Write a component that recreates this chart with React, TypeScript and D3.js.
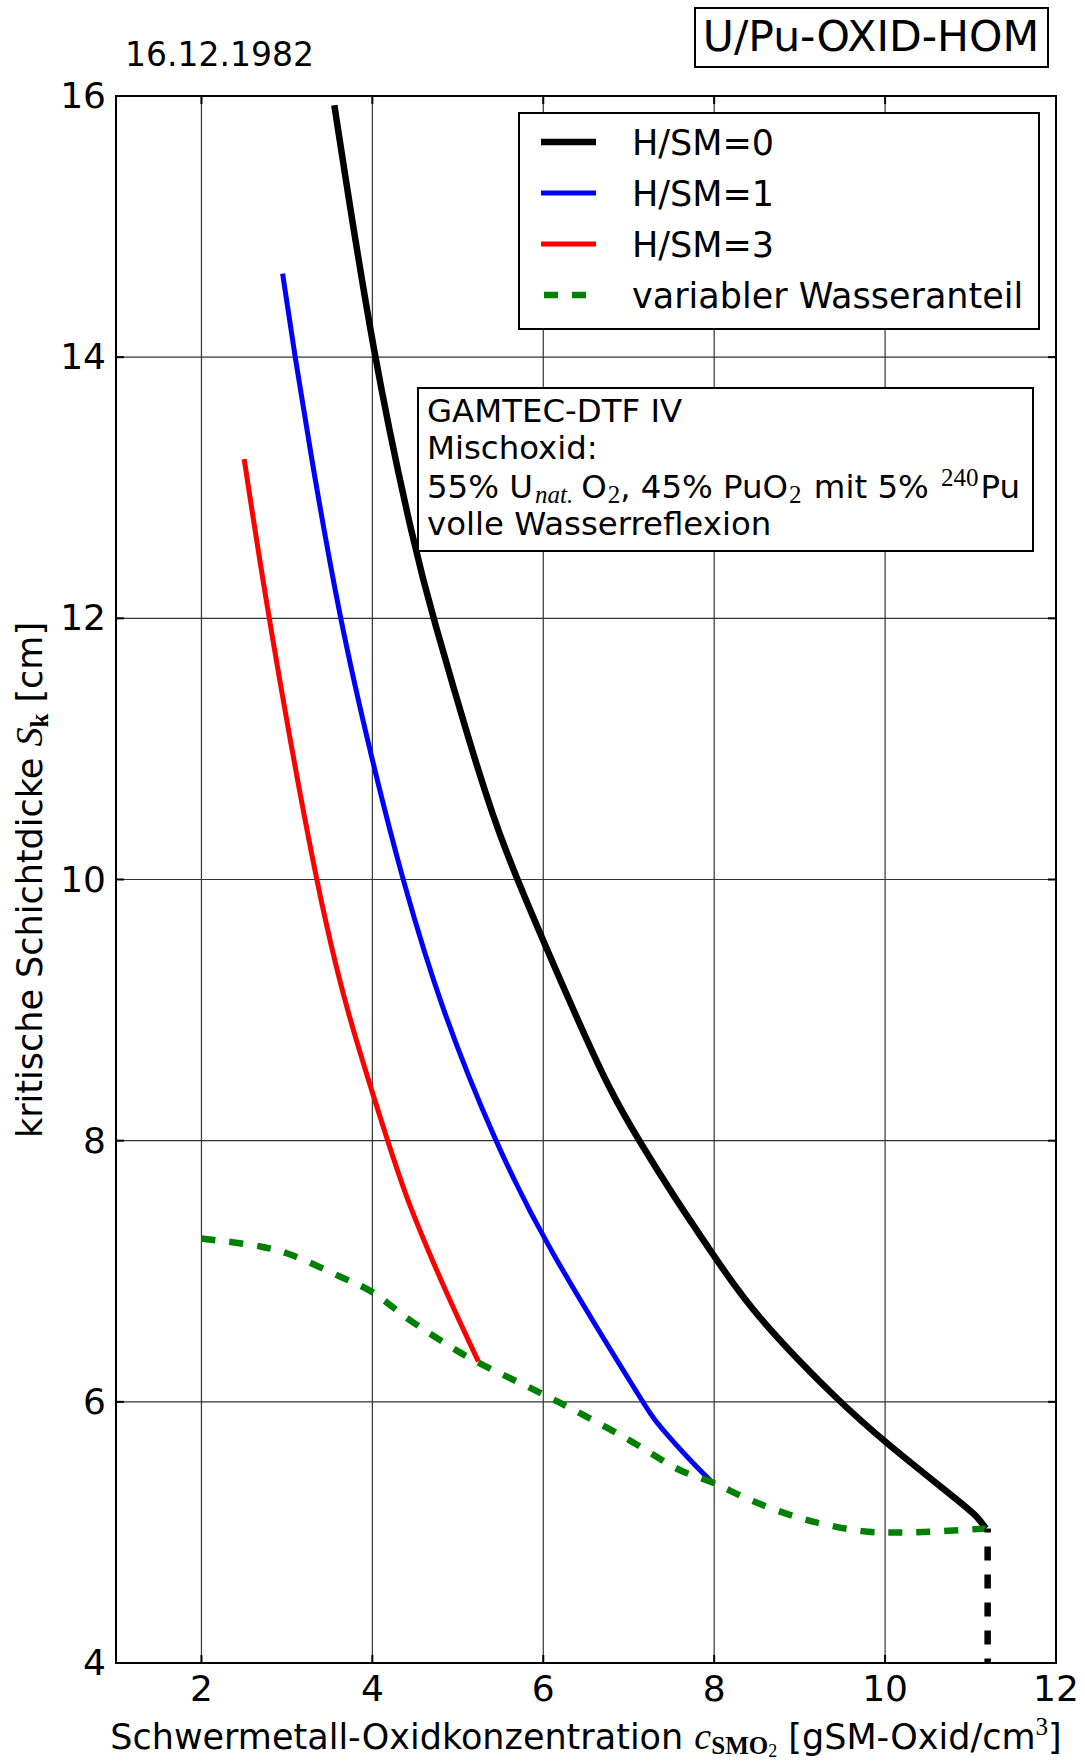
import React from "react";
import * as d3 from "d3";

// ---- Data ----
const xTicks = [2, 4, 6, 8, 10, 12];
const yTicks = [4, 6, 8, 10, 12, 14, 16];

const hsm0X = [3.555, 4.01, 4.499, 4.714, 5.104, 5.416, 5.69, 6.35, 6.78, 7.12, 7.53, 7.99, 8.45, 9.46, 10.0, 10.94, 11.08, 11.18];
const hsm0Y = [15.93, 14.0, 12.52, 12.0, 11.12, 10.47, 10.0, 9.0, 8.38, 8.0, 7.57, 7.125, 6.68, 6.0, 5.69, 5.2, 5.12, 5.03];

const hsm1X = [2.95, 3.095, 3.27, 3.614, 4.004, 4.35, 4.81, 5.43, 6.01, 7.22, 7.32, 7.79, 8.0];
const hsm1Y = [14.64, 14.0, 13.29, 12.0, 10.89, 10.0, 9.0, 8.0, 7.22, 5.94, 5.84, 5.5, 5.37];

const hsm3X = [2.5, 2.783, 3.33, 3.69, 4.18, 4.4, 4.9, 5.24];
const hsm3Y = [13.22, 12.0, 10.0, 9.0, 8.0, 7.545, 6.78, 6.31];

const varX = [2.0, 2.69, 3.03, 3.62, 4.0, 4.43, 4.97, 5.24, 5.9, 6.44, 7.05, 7.59, 7.99, 8.45, 9.06, 9.73, 10.2, 10.67, 11.18];
const varY = [7.25, 7.19, 7.13, 6.96, 6.84, 6.63, 6.4, 6.3, 6.09, 5.91, 5.69, 5.48, 5.38, 5.24, 5.1, 5.01, 5.0, 5.01, 5.03];

const dropX = [11.2, 11.2];
const dropY = [5.03, 4.0];

const legendLabels = ["H/SM=0", "H/SM=1", "H/SM=3", "variabler Wasseranteil"];

// ---- Layout ----
const W = 1085;
const H = 1762;
const L = 116, R = 1056, T = 96, B = 1663;
const SANS = "DejaVu Sans, sans-serif";
const SERIF = "Liberation Serif, DejaVu Serif, serif";

const x = d3.scaleLinear().domain([1, 12]).range([L, R]);
const y = d3.scaleLinear().domain([4, 16]).range([B, T]);

const toPts = (xs: number[], ys: number[]) => xs.map((v, i) => [v, ys[i]] as [number, number]);
const smooth = d3
  .line<[number, number]>()
  .x((d) => x(d[0]))
  .y((d) => y(d[1]))
  .curve(d3.curveBasis);
const catmull = d3
  .line<[number, number]>()
  .x((d) => x(d[0]))
  .y((d) => y(d[1]))
  .curve(d3.curveCatmullRom.alpha(0.5));
const straight = d3
  .line<[number, number]>()
  .x((d) => x(d[0]))
  .y((d) => y(d[1]));

const series = [
  { xs: hsm0X, ys: hsm0Y, color: "#000000", width: 6.5, dash: undefined as string | undefined, gen: smooth },
  { xs: hsm1X, ys: hsm1Y, color: "#0000ff", width: 5, dash: undefined, gen: smooth },
  { xs: hsm3X, ys: hsm3Y, color: "#ff0000", width: 5, dash: undefined, gen: smooth },
  { xs: varX, ys: varY, color: "#008000", width: 6.5, dash: "14 14", gen: catmull },
];

export default function App() {
  const tickLen = 8;
  return (
    <div style={{ position: "absolute", left: 0, top: 0 }}>
      <svg width={W} height={H} xmlns="http://www.w3.org/2000/svg" style={{ display: "block" }}>
        <rect x={0} y={0} width={W} height={H} fill="#fff" />

        {/* grid */}
        <g stroke="#333" strokeWidth={1.2}>
          {xTicks.map((t) => (
            <line key={"gx" + t} x1={x(t)} x2={x(t)} y1={T} y2={B} />
          ))}
          {yTicks.map((t) => (
            <line key={"gy" + t} x1={L} x2={R} y1={y(t)} y2={y(t)} />
          ))}
        </g>

        {/* ticks (inward, all sides) */}
        <g stroke="#000" strokeWidth={2}>
          {xTicks.map((t) => (
            <g key={"tx" + t}>
              <line x1={x(t)} x2={x(t)} y1={B} y2={B - tickLen} />
              <line x1={x(t)} x2={x(t)} y1={T} y2={T + tickLen} />
            </g>
          ))}
          {yTicks.map((t) => (
            <g key={"ty" + t}>
              <line x1={L} x2={L + tickLen} y1={y(t)} y2={y(t)} />
              <line x1={R} x2={R - tickLen} y1={y(t)} y2={y(t)} />
            </g>
          ))}
        </g>

        {/* series */}
        {series.map((s, i) => (
          <path
            key={"s" + i}
            d={s.gen(toPts(s.xs, s.ys)) || ""}
            fill="none"
            stroke={s.color}
            strokeWidth={s.width}
            strokeDasharray={s.dash}
          />
        ))}
        <path
          d={straight(toPts(dropX, dropY)) || ""}
          fill="none"
          stroke="#000"
          strokeWidth={6.5}
          strokeDasharray="14 14"
          strokeDashoffset={10}
        />

        {/* axes frame */}
        <rect x={L} y={T} width={R - L} height={B - T} fill="none" stroke="#000" strokeWidth={2} />

        {/* tick labels */}
        <g fontFamily={SANS} fontSize={36} fill="#000">
          {xTicks.map((t) => (
            <text key={"lx" + t} x={x(t)} y={1701} textAnchor="middle">
              {t}
            </text>
          ))}
          {yTicks.map((t) => (
            <text key={"ly" + t} x={106} y={y(t) + 12} textAnchor="end">
              {t}
            </text>
          ))}
        </g>

        {/* x axis label */}
        <text x={586} y={1749} textAnchor="middle" fontFamily={SANS} fontSize={35} fill="#000">
          Schwermetall-Oxidkonzentration{" "}
          <tspan fontFamily={SERIF} fontStyle="italic" fontSize={38}>c</tspan>
          <tspan fontFamily={SERIF} fontWeight="bold" fontSize={25} dy={5}>SMO</tspan>
          <tspan fontFamily={SERIF} fontSize={18} dy={3}>2</tspan>
          <tspan dy={-8}> [gSM-Oxid/cm</tspan>
          <tspan fontFamily={SERIF} fontSize={25} dy={-14}>3</tspan>
          <tspan dy={14}>]</tspan>
        </text>

        {/* y axis label */}
        <text
          transform={`translate(42,880) rotate(-90)`}
          textAnchor="middle"
          fontFamily={SANS}
          fontSize={35}
          fill="#000"
        >
          kritische Schichtdicke{" "}
          <tspan fontFamily={SERIF} fontStyle="italic" fontSize={38}>S</tspan>
          <tspan fontFamily={SERIF} fontWeight="bold" fontSize={25} dy={6}>k</tspan>
          <tspan dy={-6}> [cm]</tspan>
        </text>

        {/* date */}
        <text x={125} y={66} fontFamily={SANS} fontSize={33} fill="#000">
          16.12.1982
        </text>

        {/* title box */}
        <rect x={695} y={8} width={353} height={59} fill="#fff" stroke="#000" strokeWidth={2} />
        <text x={871} y={51} textAnchor="middle" fontFamily={SANS} fontSize={42.5} fill="#000">
          U/Pu-OXID-HOM
        </text>

        {/* legend */}
        <rect x={519} y={113} width={520} height={216} fill="#fff" stroke="#000" strokeWidth={2} />
        {legendLabels.map((lab, i) => {
          const cy = 142 + i * 51;
          const s = series[i];
          return (
            <g key={"lg" + i}>
              {s.dash ? (
                <line x1={544} x2={600} y1={cy} y2={cy} stroke={s.color} strokeWidth={s.width} strokeDasharray={s.dash} />
              ) : (
                <line x1={541} x2={596} y1={cy} y2={cy} stroke={s.color} strokeWidth={s.width} />
              )}
              <text x={632} y={cy + 12.5} fontFamily={SANS} fontSize={35} fill="#000">
                {lab}
              </text>
            </g>
          );
        })}

        {/* info box */}
        <rect x={418} y={388} width={615} height={163} fill="#fff" stroke="#000" strokeWidth={2} />
        <g fontFamily={SANS} fontSize={32.4} fill="#000">
          <text x={427} y={421.5}>GAMTEC-DTF IV</text>
          <text x={427} y={458.5}>Mischoxid:</text>
          <text x={427} y={497.5}>
            55% U
            <tspan fontFamily={SERIF} fontStyle="italic" fontSize={25} dx={2} dy={5}>nat.</tspan>
            <tspan dx={8} dy={-5}>O</tspan>
            <tspan fontFamily={SERIF} fontSize={25} dx={1} dy={5}>2</tspan>
            <tspan dy={-5}>, 45% PuO</tspan>
            <tspan fontFamily={SERIF} fontSize={25} dx={1} dy={5}>2</tspan>
            <tspan dx={2} dy={-5}> mit 5% </tspan>
            <tspan fontFamily={SERIF} fontSize={25} dx={2} dy={-12}>240</tspan>
            <tspan dx={2} dy={12}>Pu</tspan>
          </text>
          <text x={427} y={534.5}>volle Wasserreflexion</text>
        </g>
      </svg>
    </div>
  );
}
